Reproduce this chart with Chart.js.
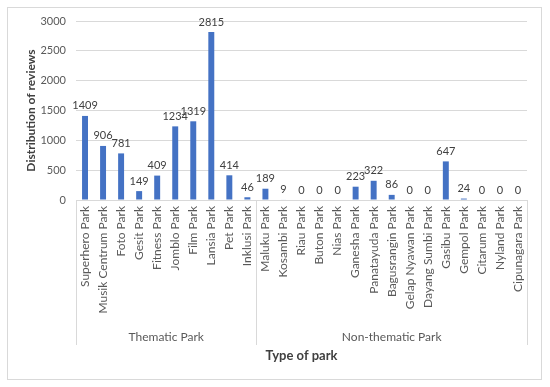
<!DOCTYPE html>
<html>
<head>
<meta charset="utf-8">
<script src="https://cdn.jsdelivr.net/npm/chart.js@4.4.0/dist/chart.umd.min.js"></script>
<style>
  html, body { margin: 0; padding: 0; background: #fff; }
</style>
</head>
<body>
<canvas id="chart" width="550" height="387"></canvas>
<script>
const parks = ['Superhero Park', 'Musik Centrum Park', 'Foto Park', 'Gesit Park', 'Fitness Park',
  'Jomblo Park', 'Film Park', 'Lansia Park', 'Pet Park', 'Inklusi Park',
  'Maluku Park', 'Kosambi Park', 'Riau Park', 'Buton Park', 'Nias Park', 'Ganesha Park',
  'Panatayuda Park', 'Bagusrangin Park', 'Gelap Nyawan Park', 'Dayang Sumbi Park',
  'Gasibu Park', 'Gempol Park', 'Citarum Park', 'Nyland Park', 'Cipunagara Park'];
const reviews = [1409, 906, 781, 149, 409, 1234, 1319, 2815, 414, 46,
  189, 9, 0, 0, 0, 223, 322, 86, 0, 0, 647, 24, 0, 0, 0];
const groupNames = ['Thematic Park', 'Non-thematic Park'];
const groupSizes = [10, 15];

const FONT = 'Lato';
const grey = '#595959';

// light frame around the whole chart
const framePlugin = {
  id: 'frame',
  beforeDraw(chart) {
    const ctx = chart.ctx;
    ctx.save();
    ctx.fillStyle = '#fff';
    ctx.fillRect(0, 0, chart.width, chart.height);
    ctx.strokeStyle = '#d9d9d9';
    ctx.lineWidth = 1;
    ctx.strokeRect(7.5, 7.5, 534, 372);
    ctx.restore();
  }
};

// numbers above the bars
const valueLabels = {
  id: 'valueLabels',
  afterDatasetsDraw(chart) {
    const ctx = chart.ctx;
    const meta = chart.getDatasetMeta(0);
    ctx.save();
    ctx.font = '11px ' + FONT;
    ctx.fillStyle = '#404040';
    ctx.textAlign = 'center';
    ctx.textBaseline = 'middle';
    meta.data.forEach((bar, i) => {
      ctx.fillText(String(reviews[i]), bar.x, bar.y - 10);
    });
    ctx.restore();
  }
};

// second level of the category axis: separators and group names
const groupAxis = {
  id: 'groupAxis',
  afterDraw(chart) {
    const x = chart.scales.x;
    const ctx = chart.ctx;
    const half = (x.getPixelForValue(1) - x.getPixelForValue(0)) / 2;
    const top = chart.chartArea.bottom;
    ctx.save();
    ctx.strokeStyle = '#d9d9d9';
    ctx.lineWidth = 1;
    ctx.fillStyle = grey;
    ctx.font = '12px ' + FONT;
    ctx.textAlign = 'center';
    ctx.textBaseline = 'middle';
    let start = 0;
    const edges = [Math.round(x.getPixelForValue(0) - half) + 0.5];
    groupSizes.forEach((n, g) => {
      const l = x.getPixelForValue(start) - half;
      const r = x.getPixelForValue(start + n - 1) + half;
      edges.push(Math.round(r) + 0.5);
      ctx.fillText(groupNames[g], (l + r) / 2, 337);
      start += n;
    });
    edges.forEach(px => {
      ctx.beginPath();
      ctx.moveTo(px, top);
      ctx.lineTo(px, 345);
      ctx.stroke();
    });
    ctx.restore();
  }
};

new Chart(document.getElementById('chart'), {
  type: 'bar',
  data: {
    labels: parks,
    datasets: [{
      data: reviews,
      backgroundColor: '#4472C4',
      barPercentage: 0.33,
      categoryPercentage: 1
    }]
  },
  options: {
    responsive: false,
    devicePixelRatio: 1,
    animation: false,
    layout: { padding: { left: 22, right: 23, top: 21, bottom: 19 } },
    plugins: {
      legend: { display: false },
      tooltip: { enabled: false }
    },
    scales: {
      x: {
        grid: { display: false, drawTicks: false },
        border: { display: true, color: '#d9d9d9' },
        ticks: {
          minRotation: 90,
          maxRotation: 90,
          autoSkip: false,
          padding: 6,
          color: grey,
          font: { family: FONT, size: 12 }
        },
        title: {
          display: true,
          text: 'Type of park',
          color: '#404040',
          font: { family: FONT, size: 13, weight: 'bold' },
          padding: { top: 4, bottom: 4 }
        },
        afterFit(scale) { scale.height = 387 - 200 - 19; }
      },
      y: {
        min: 0,
        max: 3000,
        ticks: {
          stepSize: 500,
          padding: 10,
          color: grey,
          font: { family: FONT, size: 11 },
          callback: v => String(v)
        },
        grid: { color: '#d9d9d9', drawTicks: false },
        border: { display: false },
        title: {
          display: true,
          text: 'Distribution of reviews',
          color: '#404040',
          font: { family: FONT, size: 12, weight: 'bold' },
          padding: { top: 2, bottom: 2 }
        },
        afterFit(scale) { scale.width = 54; }
      }
    }
  },
  plugins: [framePlugin, valueLabels, groupAxis]
});
</script>
</body>
</html>
